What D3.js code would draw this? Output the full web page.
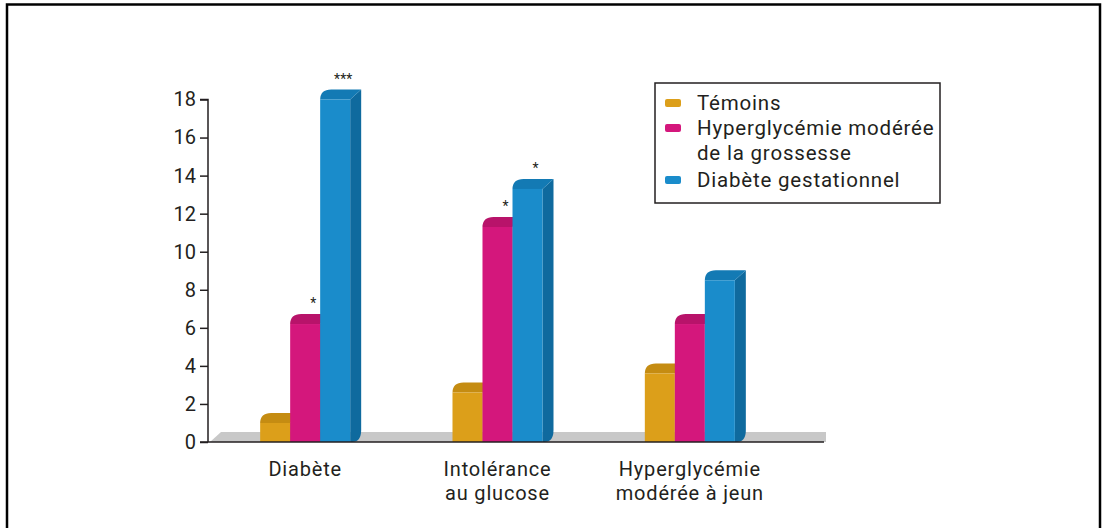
<!DOCTYPE html>
<html>
<head>
<meta charset="utf-8">
<script src="https://cdn.jsdelivr.net/npm/d3@7"></script>
<style>
  body { margin: 0; background: #fff; }
  svg { display: block; }
  text { font-family: Roboto, sans-serif; fill: #231f20; }
</style>
</head>
<body>
<svg width="1103" height="528"></svg>
<script>
// data
const categories = ["Diabète", "Intolérance\nau glucose", "Hyperglycémie\nmodérée à jeun"];
const series = ["Témoins", "Hyperglycémie modérée\nde la grossesse", "Diabète gestationnel"];
const temoins = [1.0, 2.6, 3.6];
const hmg = [6.2, 11.3, 6.2];
const dg = [18.0, 13.3, 8.5];
const stars = [["", "*", "***"], ["", "*", "*"], ["", "", ""]];
const yTicks = [0, 2, 4, 6, 8, 10, 12, 14, 16, 18];

const colors = ["#dc9f1a", "#d4177c", "#1a8ccb"];
const sideColors = ["#b07a0c", "#a30f5c", "#0f6a9e"];
const topColors = ["#c58c12", "#b8136a", "#137ab4"];

const values = [temoins, hmg, dg];

const svg = d3.select("svg");

// outer frame
svg.append("rect")
   .attr("x", 7).attr("y", 4.5)
   .attr("width", 1093).attr("height", 540)
   .attr("fill", "none").attr("stroke", "#000").attr("stroke-width", 2.5);

const x0 = d3.scaleBand()
             .domain(d3.range(categories.length))
             .range([209, 786])
             .paddingInner(0.532)
             .paddingOuter(0.266);

const x1 = d3.scaleBand()
             .domain(d3.range(series.length))
             .range([0, x0.bandwidth()]);

const y = d3.scaleLinear().domain([0, 18]).range([442, 99.5]);

const dx = 11, dy = 10;

// grey floor
svg.append("path")
   .attr("d", `M${210},${y(0)} L${210 + dx},${y(0) - dy} L826,${y(0) - dy} L826,${y(0)} Z`)
   .attr("fill", "#c8c8c8");

// y axis
const yAxis = svg.append("g")
   .attr("transform", "translate(208,0)")
   .call(d3.axisLeft(y).tickValues(yTicks).tickSize(8).tickPadding(4));
yAxis.select(".domain").attr("stroke", "#231f20").attr("stroke-width", 1.5).attr("d", `M-8,${y(18)}H0V${y(0)}`);
yAxis.selectAll(".tick line").attr("stroke", "#231f20").attr("stroke-width", 1.5);
yAxis.selectAll(".tick text").style("font-family", "Roboto, sans-serif").style("font-size", "20px").attr("fill", "#231f20");

// bars
const groups = svg.append("g").selectAll("g")
   .data(categories)
   .join("g")
   .attr("transform", (d, i) => `translate(${x0(i)},0)`);

groups.each(function(cat, ci) {
  const g = d3.select(this);
  series.forEach((s, si) => {
    const v = values[si][ci];
    const bx = x1(si), w = x1.bandwidth();
    const top = y(v), base = y(0);
    // side face
    g.append("path")
     .attr("d", `M${bx + w},${top} L${bx + w + dx},${top - dy} L${bx + w + dx},${base - dy - 2} Q${bx + w + dx},${base} ${bx + w + 2},${base} L${bx + w},${base} Z`)
     .attr("fill", sideColors[si]);
    // top face
    g.append("path")
     .attr("d", `M${bx},${top} Q${bx},${top - dy} ${bx + dx},${top - dy} L${bx + w + dx},${top - dy} L${bx + w},${top} Z`)
     .attr("fill", topColors[si]);
    // front face
    g.append("rect")
     .attr("x", bx).attr("y", top)
     .attr("width", w).attr("height", base - top)
     .attr("fill", colors[si]);
    // stars
    if (stars[ci][si]) {
      g.append("text")
       .attr("x", bx + w / 2 + 8)
       .attr("y", top - dy - 6)
       .attr("text-anchor", "middle")
       .style("font-size", "14px")
       .attr("fill", "#444")
       .text(stars[ci][si]);
    }
  });
});

// x axis line
svg.append("line")
   .attr("x1", 200).attr("x2", 824)
   .attr("y1", y(0)).attr("y2", y(0))
   .attr("stroke", "#231f20").attr("stroke-width", 1.5);

// category labels
categories.forEach((c, i) => {
  const cx = x0(i) + x0.bandwidth() / 2;
  c.split("\n").forEach((line, k) => {
    svg.append("text")
       .attr("x", cx)
       .attr("y", 476 + k * 24)
       .attr("text-anchor", "middle")
       .style("font-size", "20px")
       .style("letter-spacing", "0.8px")
       .text(line);
  });
});

// legend
const legend = svg.append("g");
legend.append("rect")
   .attr("x", 655).attr("y", 83)
   .attr("width", 285).attr("height", 120)
   .attr("fill", "#fff").attr("stroke", "#231f20").attr("stroke-width", 1.5);

const legendY = [103, 128, 180];
series.forEach((s, i) => {
  legend.append("rect")
     .attr("x", 665).attr("y", legendY[i] - 4)
     .attr("width", 16).attr("height", 8).attr("rx", 2)
     .attr("fill", colors[i]);
  s.split("\n").forEach((line, k) => {
    legend.append("text")
       .attr("x", 697)
       .attr("y", legendY[i] + 7 + k * 25)
       .style("font-size", "20.5px")
       .style("letter-spacing", "0.8px")
       .text(line);
  });
});
</script>
</body>
</html>
